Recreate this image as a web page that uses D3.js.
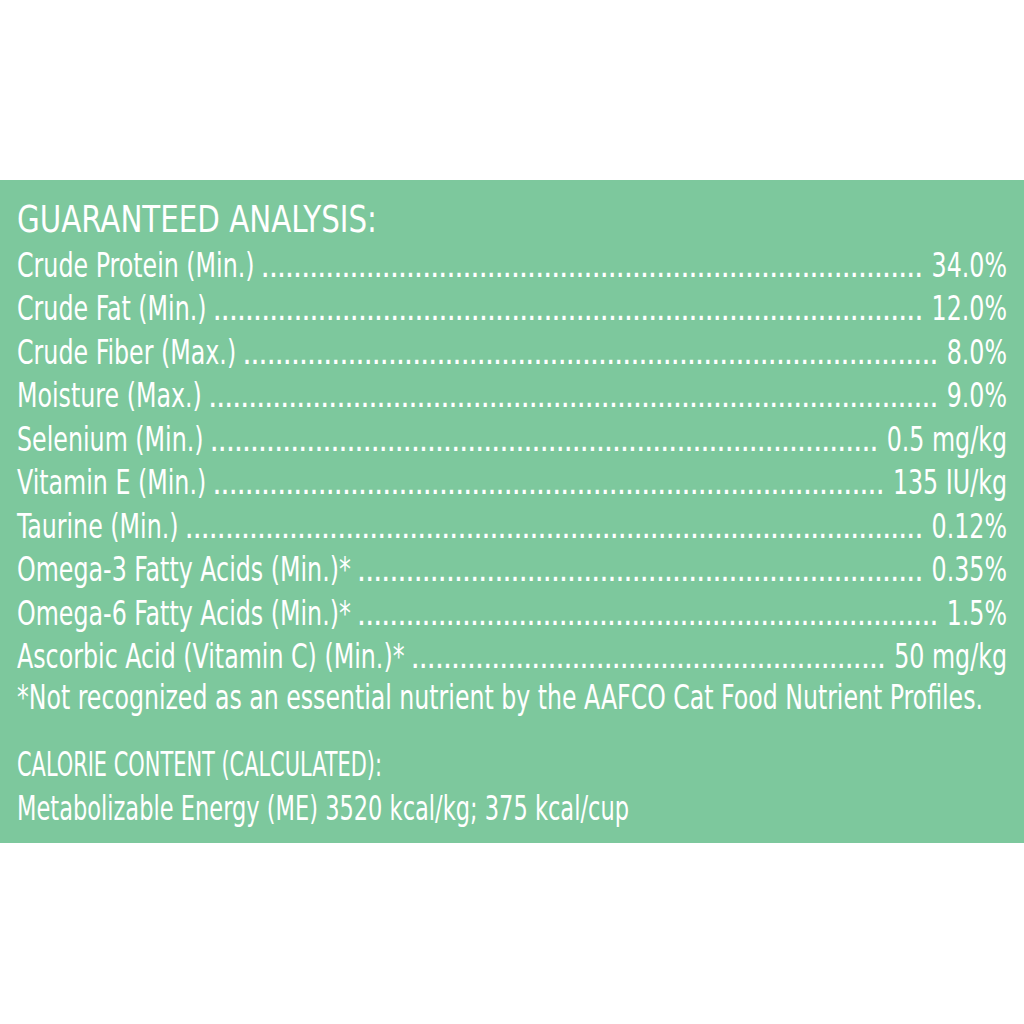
<!DOCTYPE html>
<html><head><meta charset="utf-8">
<script src="https://cdn.jsdelivr.net/npm/d3@7"></script>
<style>body{margin:0;background:#fff}text{font-family:"DejaVu Sans Condensed","Liberation Sans Narrow",sans-serif;fill:#fff}</style>
</head><body><svg id="c" width="1024" height="1024"></svg>
<script>
const labels = ["Crude Protein (Min.)", "Crude Fat (Min.)", "Crude Fiber (Max.)", "Moisture (Max.) ",
  "Selenium (Min.)", "Vitamin E (Min.)", "Taurine (Min.)", "Omega-3 Fatty Acids (Min.)*",
  "Omega-6 Fatty Acids (Min.)*", "Ascorbic Acid (Vitamin C) (Min.)*"];
const values = ["34.0%", "12.0%", "8.0%", "9.0%", "0.5 mg/kg", "135 IU/kg", "0.12%", "0.35%", "1.5%", "50 mg/kg"];
const title = "GUARANTEED ANALYSIS:";
const footnote = "*Not recognized as an essential nutrient by the AAFCO Cat Food Nutrient Profiles.";
const calTitle = "CALORIE CONTENT (CALCULATED):";
const calText = "Metabolizable Energy (ME) 3520 kcal/kg;  375 kcal/cup";

const svg = d3.select("#c");
svg.append("rect").attr("x", 0).attr("y", 180).attr("width", 1024).attr("height", 663).attr("fill", "#7dc89d");

const y = d3.scaleLinear().domain([0, 9]).range([277, 668]);
const left = 17, right = 1007, fs = 33, squeeze = 0.8;

function fit(t, w) {
  t.attr("textLength", w).attr("lengthAdjust", "spacingAndGlyphs");
  return w;
}
function narrow(t) {
  return fit(t, t.node().getComputedTextLength() * squeeze);
}

fit(svg.append("text").attr("x", left).attr("y", 232).attr("font-size", 38).text(title), 360);

const rows = svg.selectAll("g.row").data(labels).enter().append("g").attr("class", "row");
rows.each(function(d, i) {
  const g = d3.select(this);
  const lw = narrow(g.append("text").attr("x", left).attr("y", y(i)).attr("font-size", fs).text(d));
  const vw = narrow(g.append("text").attr("x", right).attr("y", y(i)).attr("font-size", fs)
    .attr("text-anchor", "end").text(values[i]));
  const x0 = left + lw + 6;
  const x1 = right - vw - 8;
  const dots = g.append("text").attr("x", x0).attr("y", y(i)).attr("font-size", fs).text(".");
  const dw = dots.node().getComputedTextLength() * 0.85;
  dots.text(".".repeat(Math.max(0, Math.floor((x1 - x0) / dw))))
    .attr("textLength", x1 - x0).attr("lengthAdjust", "spacing");
});

fit(svg.append("text").attr("x", left).attr("y", 709).attr("font-size", fs).text(footnote), 966);
fit(svg.append("text").attr("x", left).attr("y", 776).attr("font-size", fs).text(calTitle), 365);
fit(svg.append("text").attr("x", left).attr("y", 820).attr("font-size", fs).text(calText), 612);
</script></body></html>
